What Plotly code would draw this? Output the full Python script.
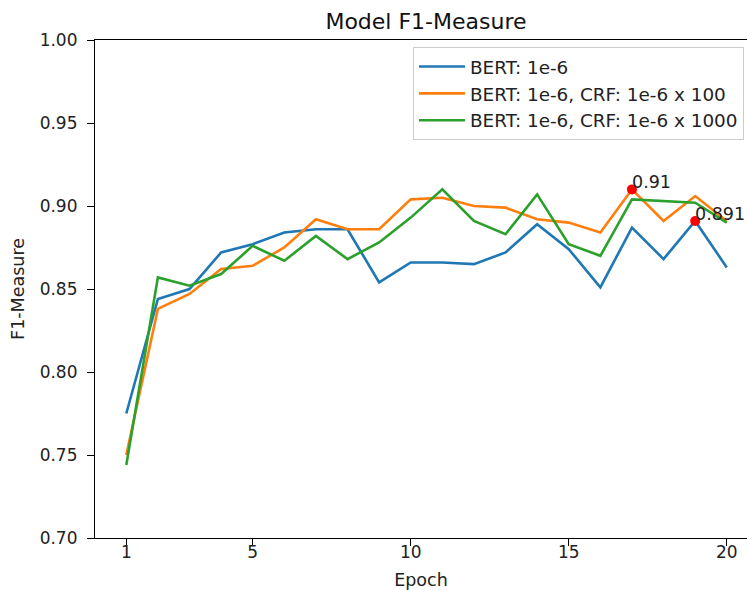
import plotly.graph_objects as go

epochs = list(range(1, 21))
bert = [0.775, 0.844, 0.850, 0.872, 0.877, 0.884, 0.886, 0.886, 0.854, 0.866,
        0.866, 0.865, 0.872, 0.889, 0.874, 0.851, 0.887, 0.868, 0.891, 0.863]
crf100 = [0.750, 0.838, 0.847, 0.862, 0.864, 0.875, 0.892, 0.886, 0.886, 0.904,
          0.905, 0.900, 0.899, 0.892, 0.890, 0.884, 0.910, 0.891, 0.906, 0.891]
crf1000 = [0.744, 0.857, 0.852, 0.859, 0.876, 0.867, 0.882, 0.868, 0.878, 0.893,
           0.910, 0.891, 0.883, 0.907, 0.877, 0.870, 0.904, 0.903, 0.902, 0.890]
names = ["BERT: 1e-6", "BERT: 1e-6, CRF: 1e-6 x 100", "BERT: 1e-6, CRF: 1e-6 x 1000"]
colors = ["#1f77b4", "#ff7f0e", "#2ca02c"]
best_x = [17, 19]
best_y = [0.91, 0.891]
best_labels = ["0.91", "0.891"]
x_ticks = [1, 5, 10, 15, 20]
y_ticks = [0.70, 0.75, 0.80, 0.85, 0.90, 0.95, 1.00]

font = "DejaVu Sans"
fs = 17
fig = go.Figure()
for ys, n, c in zip([bert, crf100, crf1000], names, colors):
    fig.add_trace(go.Scatter(x=epochs, y=ys, mode="lines", name=n,
                             line=dict(color=c, width=2.6)))
fig.add_trace(go.Scatter(x=best_x, y=best_y, mode="markers", showlegend=False,
                         marker=dict(color="red", size=10)))
for bx, by, bl in zip(best_x, best_y, best_labels):
    fig.add_annotation(x=bx, y=by, text=bl, showarrow=False, xanchor="left",
                       yanchor="bottom", xshift=-2, yshift=-5,
                       font=dict(family=font, size=17.5, color="#222"))

fig.update_layout(
    width=747, height=590,
    margin=dict(l=95, r=0, t=40, b=52),
    paper_bgcolor="white", plot_bgcolor="white",
    font=dict(family=font, size=fs, color="#222"),
    title=dict(text="Model F1-Measure", x=(95 + 757) / 2 / 747, xanchor="center",
               y=1 - 21 / 590, yanchor="middle", font=dict(size=22, color="#111")),
    legend=dict(x=(413 - 95) / 652, y=1 - 7 / 498, xanchor="left", yanchor="top",
                bgcolor="rgba(255,255,255,0.8)", bordercolor="#cccccc", borderwidth=1,
                font=dict(size=18.4, color="#222"), tracegroupgap=0, itemwidth=46),
)
fig.update_xaxes(range=[0.01, 20.64], tickvals=x_ticks, ticks="outside", ticklen=7,
                 tickwidth=1.2, tickcolor="black", showline=True, linecolor="black",
                 linewidth=1.2, mirror=True, showgrid=False, zeroline=False,
                 automargin=False, ticklabelstandoff=-9,
                 title=dict(text="Epoch", standoff=16, font=dict(size=17.5)))
fig.update_yaxes(range=[0.70, 1.00], tickvals=y_ticks, tickformat=".2f",
                 ticks="outside", ticklen=7, tickwidth=1.2, tickcolor="black",
                 showline=True, linecolor="black", linewidth=1.2, showgrid=False,
                 zeroline=False, automargin=False, ticklabelstandoff=6,
                 title=dict(text="F1-Measure", standoff=10, font=dict(size=17.5)))
fig.write_html("out.html", config={"displayModeBar": False},
               post_script="document.body.style.margin='0';document.body.style.overflow='hidden';")
